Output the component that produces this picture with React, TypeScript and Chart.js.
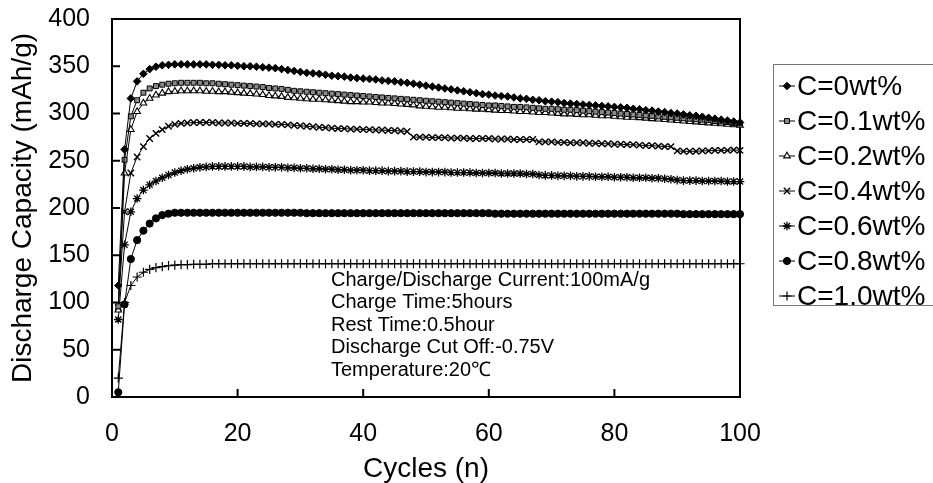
import React, { useEffect, useRef } from 'react';
import { Chart, registerables } from 'chart.js';
import { drawPoint } from 'chart.js/helpers';

Chart.register(...registerables);

const cycles = [
  1, 2, 3, 4, 5, 6, 7, 8, 9, 10,
  11, 12, 13, 14, 15, 16, 17, 18, 19, 20,
  21, 22, 23, 24, 25, 26, 27, 28, 29, 30,
  31, 32, 33, 34, 35, 36, 37, 38, 39, 40,
  41, 42, 43, 44, 45, 46, 47, 48, 49, 50,
  51, 52, 53, 54, 55, 56, 57, 58, 59, 60,
  61, 62, 63, 64, 65, 66, 67, 68, 69, 70,
  71, 72, 73, 74, 75, 76, 77, 78, 79, 80,
  81, 82, 83, 84, 85, 86, 87, 88, 89, 90,
  91, 92, 93, 94, 95, 96, 97, 98, 99, 100,
];

const c0 = [
  118, 262, 316, 334, 342, 347, 349.5, 351, 351.5, 352,
  352, 352, 352, 352, 352, 351.5, 351.5, 351, 351, 350.5,
  350, 350, 349.5, 349, 348.5, 348, 347, 346, 345, 344,
  343, 342.5, 342, 341, 340, 339.5, 339, 338, 337.5, 337,
  336.5, 336, 335, 334.5, 334, 333, 332.5, 331.5, 330.5, 329.5,
  328.5, 327.5, 326.5, 325.5, 324.5, 323.5, 322.5, 321.5, 320.5, 320,
  319, 318.5, 318, 317, 316, 315.5, 314.5, 314, 313, 312.5,
  312, 311, 310.5, 310, 309.5, 309, 308.5, 308, 307.5, 307,
  306.5, 306, 305, 304.5, 303.5, 303, 302, 301.5, 300.5, 300,
  299, 298, 297.5, 296.5, 295.5, 294.5, 293.5, 292.5, 291.5, 290.5,
];

const c01 = [
  96, 251, 297, 314, 322, 326.5, 329, 330.5, 331.5, 332,
  332.5, 332.5, 332.5, 332.5, 332, 332, 331.5, 331, 330.5, 330,
  329.5, 329, 328.5, 328, 327, 326.5, 326, 325, 324, 323.5,
  323, 322.5, 322, 321.5, 321, 320.5, 320, 319.5, 319, 318.5,
  318, 317.5, 317, 316.5, 316, 315.5, 315, 314.5, 314, 313.5,
  313, 312.5, 312, 311.5, 311, 310.5, 310, 309.5, 309, 308.5,
  308.5, 308, 307.5, 307, 307, 306.5, 306, 305.5, 305, 305,
  304.5, 304, 304, 303.5, 303, 302.5, 302, 301.5, 301, 300.5,
  300, 299.5, 299, 298.5, 298, 297.5, 297, 296.5, 296, 295.5,
  295, 294.5, 294, 293.5, 293, 292, 291.5, 291, 290, 289.5,
];

const c02 = [
  92, 237, 283, 302, 311, 316, 319.5, 321.5, 323, 323.5,
  324, 324, 324, 324, 323.5, 323.5, 323, 323, 322.5, 322,
  321.5, 321, 320.5, 320, 319, 318.5, 318, 317, 316.5, 316,
  315.5, 315, 315, 314.5, 314, 313.5, 313, 312.5, 312.5, 312,
  312, 311.5, 311, 311, 310.5, 310, 309.5, 309, 308, 307.5,
  307, 306.5, 306.5, 306, 305.5, 305.5, 305, 304.5, 304.5, 304,
  303.5, 303, 303, 302.5, 302, 302, 301.5, 301, 301, 300.5,
  300, 299.5, 299.5, 299, 298.5, 298.5, 298, 297.5, 297.5, 297,
  296.5, 296, 296, 295.5, 295, 294.5, 294, 293.5, 293, 292.5,
  292, 291.5, 291, 290.5, 290, 289.5, 289, 288.5, 288, 287.5,
];

const c04 = [
  95, 196, 237, 254, 265, 273.5, 279, 283, 286.5, 288.5,
  289.5, 290, 290.5, 290.5, 290.5, 290.5, 290, 290, 290, 289.5,
  289.5, 289.5, 289, 289, 289, 288.5, 288.5, 288, 287.5, 287,
  286.5, 286, 285.5, 285, 284.5, 284, 284, 283.5, 283.5, 283,
  283, 282.5, 282.5, 282, 282, 281.5, 281, 275, 275, 275,
  274.5, 274.5, 274.5, 274, 274, 274, 273.5, 273.5, 273.5, 273.5,
  273, 273, 273, 272.5, 272.5, 272.5, 272.5, 270, 270, 270,
  269.5, 269.5, 269, 269, 269, 268.5, 268.5, 268, 268, 267.5,
  267.5, 267, 267, 266.5, 266, 266, 265.5, 265, 265, 260.5,
  260, 260, 260, 260.5, 260.5, 261, 261, 261, 261.5, 261,
];

const c06 = [
  82, 161, 196, 210, 219, 224.5, 228.5, 232, 235, 237.5,
  239.5, 241, 242, 243, 243.5, 244, 244, 244, 244, 244,
  244, 243.5, 243.5, 243.5, 243, 243, 243, 242.5, 242.5, 242,
  242, 241.5, 241.5, 241, 241, 240.5, 240.5, 240, 240, 240,
  239.5, 239.5, 239.5, 239, 239, 239, 238.5, 238.5, 238.5, 238,
  238, 238, 238, 237.5, 237.5, 237.5, 237.5, 237, 237, 237,
  237, 236.5, 236.5, 236.5, 236.5, 236, 236, 235, 234.5, 234.5,
  234, 234, 234, 233.5, 233.5, 233.5, 233, 233, 233, 232.5,
  232.5, 232.5, 232, 232, 232, 231.5, 231.5, 231, 230.5, 229.5,
  229, 229, 229, 228.5, 228.5, 228.5, 228.5, 228, 228, 228,
];

const c08 = [
  5, 98, 146, 166, 176, 183.5, 189, 192.5, 194, 195,
  195, 195, 195, 195, 195, 195, 195, 195, 195, 195,
  195, 195, 195, 195, 195, 195, 195, 195, 195, 195,
  194.5, 194.5, 194.5, 194.5, 194.5, 194.5, 194.5, 194.5, 194.5, 194.5,
  194.5, 194.5, 194.5, 194.5, 194.5, 194.5, 194.5, 194.5, 194.5, 194.5,
  194.5, 194.5, 194.5, 194.5, 194.5, 194.5, 194.5, 194.5, 194.5, 194.5,
  194, 194, 194, 194, 194, 194, 194, 194, 194, 194,
  194, 194, 194, 194, 194, 194, 194, 194, 194, 194,
  194, 194, 194, 194, 194, 194, 194, 194, 194, 194,
  193.5, 193.5, 193.5, 193.5, 193.5, 193.5, 193.5, 193.5, 193.5, 193.5,
];

const c10 = [
  20, 100, 118, 127, 132, 135, 137, 138, 139, 139.5,
  140, 140, 140.5, 140.5, 140.5, 141, 141, 141, 141, 141,
  141, 141, 141, 141, 141, 141, 141, 141, 141, 141,
  141, 141, 141, 141, 141, 141, 141, 141, 141, 141,
  141, 141, 141, 141, 141, 141, 141, 141, 141, 141,
  141, 141, 141, 141, 141, 141, 141, 141, 141, 141,
  141, 141, 141, 141, 141, 141, 141, 141, 141, 141,
  141, 141, 141, 141, 141, 141, 141, 141, 141, 141,
  141, 141, 141, 141, 141, 141, 141, 141, 141, 141,
  141, 141, 141, 141, 141, 141, 141, 141, 141, 141,
];

const seriesLabels = ['C=0wt%', 'C=0.1wt%', 'C=0.2wt%', 'C=0.4wt%', 'C=0.6wt%', 'C=0.8wt%', 'C=1.0wt%'];
const seriesValues = [c0, c01, c02, c04, c06, c08, c10];

const yTitle = 'Discharge Capacity (mAh/g)';
const xTitle = 'Cycles (n)';
const notes = [
  'Charge/Discharge Current:100mA/g',
  'Charge Time:5hours',
  'Rest Time:0.5hour',
  'Discharge Cut Off:-0.75V',
  'Temperature:20℃',
];

const markerStyles = [
  { pointStyle: 'rectRot', radius: 3.8, bg: '#000', bw: 1 },
  { pointStyle: 'rect', radius: 3.5, bg: '#8a8a8a', bw: 1 },
  { pointStyle: 'triangle', radius: 3.8, bg: '#fff', bw: 1.1 },
  { pointStyle: 'crossRot', radius: 4.5, bg: '#000', bw: 1.4 },
  { pointStyle: 'star', radius: 4.3, bg: '#000', bw: 1.3 },
  { pointStyle: 'circle', radius: 3.6, bg: '#000', bw: 1 },
  { pointStyle: 'cross', radius: 4.6, bg: '#000', bw: 1.2 },
];

const FONT = '"Liberation Sans", Arial, sans-serif';

const framePlugin = {
  id: 'frame',
  beforeDatasetsDraw(chart: any) {
    const { ctx, chartArea, scales } = chart;
    const { left, right, top, bottom } = chartArea;
    ctx.save();
    ctx.strokeStyle = '#000';
    ctx.lineWidth = 2;
    ctx.strokeRect(left, top, right - left, bottom - top);
    ctx.beginPath();
    scales.y.ticks.forEach((t: any) => {
      const py = scales.y.getPixelForValue(t.value);
      ctx.moveTo(left, py);
      ctx.lineTo(left + 8, py);
    });
    scales.x.ticks.forEach((t: any) => {
      const px = scales.x.getPixelForValue(t.value);
      ctx.moveTo(px, bottom);
      ctx.lineTo(px, bottom - 8);
    });
    ctx.stroke();
    ctx.restore();
  },
  afterDraw(chart: any) {
    const { ctx } = chart;
    ctx.save();
    ctx.fillStyle = '#000';
    ctx.font = `20px ${FONT}`;
    ctx.textAlign = 'left';
    ctx.textBaseline = 'middle';
    notes.forEach((n, i) => {
      ctx.fillText(n, 331, 280 + i * 22.6);
    });
    ctx.strokeStyle = '#777';
    ctx.lineWidth = 1;
    ctx.strokeRect(773.5, 64.5, 170, 241);
    ctx.font = `28px ${FONT}`;
    chart.data.datasets.forEach((ds: any, i: number) => {
      const y = 86 + i * 35;
      ctx.strokeStyle = '#000';
      ctx.lineWidth = 1;
      ctx.beginPath();
      ctx.moveTo(779, y);
      ctx.lineTo(795, y);
      ctx.stroke();
      const m = markerStyles[i];
      ctx.fillStyle = m.bg;
      ctx.strokeStyle = '#000';
      ctx.lineWidth = m.bw;
      drawPoint(ctx, { pointStyle: m.pointStyle, radius: m.radius, borderWidth: m.bw, rotation: 0 } as any, 787, y);
      ctx.fillStyle = '#000';
      ctx.fillText(ds.label, 797, y + 1);
    });
    ctx.restore();
  },
};

export default function App() {
  const ref = useRef<HTMLCanvasElement | null>(null);
  useEffect(() => {
    if (!ref.current) return;
    Chart.defaults.font.family = FONT;
    const datasets = seriesValues.map((vals, i) => ({
      label: seriesLabels[i],
      data: cycles.map((c, j) => ({ x: c, y: vals[j] })),
      borderColor: '#000',
      borderWidth: 1,
      backgroundColor: markerStyles[i].bg,
      pointBackgroundColor: markerStyles[i].bg,
      pointBorderColor: '#000',
      pointBorderWidth: markerStyles[i].bw,
      pointStyle: markerStyles[i].pointStyle,
      pointRadius: markerStyles[i].radius,
      tension: 0,
      fill: false,
      clip: 8,
    }));
    const chart = new Chart(ref.current, {
      type: 'line',
      data: { datasets },
      options: {
        responsive: false,
        animation: false,
        events: [],
        layout: { padding: { top: 19, right: 193, left: 0, bottom: 0 } },
        plugins: { legend: { display: false }, tooltip: { enabled: false } },
        scales: {
          x: {
            type: 'linear',
            min: 0,
            max: 100,
            ticks: { stepSize: 20, padding: 22, color: '#000', font: { size: 25 }, maxRotation: 0 },
            grid: { display: false, drawTicks: false },
            border: { display: false },
            title: { display: true, text: xTitle, color: '#000', font: { size: 28 }, padding: { top: 0, bottom: -3 } },
            afterFit(s: any) { s.height = 86; s.paddingLeft = 0; s.paddingRight = 0; },
          },
          y: {
            type: 'linear',
            min: 0,
            max: 400,
            ticks: { stepSize: 50, padding: 22, color: '#000', font: { size: 25 } },
            grid: { display: false, drawTicks: false },
            border: { display: false },
            title: { display: true, text: yTitle, color: '#000', font: { size: 28 }, padding: { top: 6, bottom: 0 } },
            afterFit(s: any) { s.width = 112; s.paddingTop = 0; s.paddingBottom = 0; },
          },
        },
      },
      plugins: [framePlugin],
    } as any);
    return () => chart.destroy();
  }, []);
  return (
    <div style={{ position: 'absolute', left: 0, top: 0, width: 933, height: 483, background: '#fff' }}>
      <canvas ref={ref} width={933} height={483} style={{ display: 'block', width: 933, height: 483 }} />
    </div>
  );
}
